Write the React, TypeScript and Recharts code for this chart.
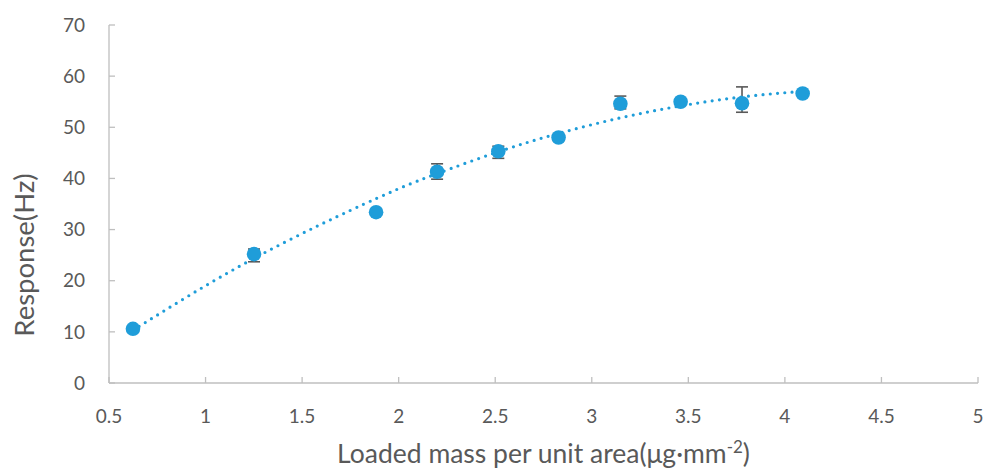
import { ScatterChart, Scatter, XAxis, YAxis, ErrorBar, Label } from "recharts";

// loaded mass per unit area (µg·mm^-2)
const massX = [0.624, 1.251, 1.883, 2.199, 2.516, 2.828, 3.148, 3.46, 3.778, 4.092];
// response (Hz)
const responseY = [10.6, 25.2, 33.4, 41.3, 45.3, 48.0, 54.6, 55.0, 54.7, 56.6];
// error bars [below, above]
const errLow = [0.3, 1.5, 0.4, 1.45, 1.37, 0.6, 1.0, 0.4, 1.76, 0.3];
const errHigh = [0.3, 1.0, 0.4, 1.56, 1.0, 0.6, 1.5, 0.4, 3.2, 0.3];

const xTicks = [0.5, 1, 1.5, 2, 2.5, 3, 3.5, 4, 4.5, 5];
const yTicks = [0, 10, 20, 30, 40, 50, 60, 70];

const blue = "#1f9dd9";
const axisGray = "#bfbfbf";
const textGray = "#595959";
const font = "Lato, 'Noto Sans', sans-serif";

// least squares 2nd order polynomial (like Excel's polynomial trendline)
function polyFit2(xs: number[], ys: number[]) {
    let n = xs.length, sx = 0, sx2 = 0, sx3 = 0, sx4 = 0, sy = 0, sxy = 0, sx2y = 0;
    xs.forEach((x, i) => {
        const y = ys[i];
        sx += x; sx2 += x * x; sx3 += x ** 3; sx4 += x ** 4;
        sy += y; sxy += x * y; sx2y += x * x * y;
    });
    const det3 = (m: number[][]) =>
        m[0][0] * (m[1][1] * m[2][2] - m[1][2] * m[2][1]) -
        m[0][1] * (m[1][0] * m[2][2] - m[1][2] * m[2][0]) +
        m[0][2] * (m[1][0] * m[2][1] - m[1][1] * m[2][0]);
    const A = [[n, sx, sx2], [sx, sx2, sx3], [sx2, sx3, sx4]];
    const B = [sy, sxy, sx2y];
    const D = det3(A);
    const coef = [0, 1, 2].map((k) =>
        det3(A.map((row, r) => row.map((v, c) => (c === k ? B[r] : v)))) / D
    );
    return (x: number) => coef[0] + coef[1] * x + coef[2] * x * x;
}

const points = massX.map((x, i) => ({ x, y: responseY[i], err: [errLow[i], errHigh[i]] }));
const fit = polyFit2(massX, responseY);
const trend = massX.map((x) => ({ x, y: fit(x) }));

const tickStyle = { fill: textGray, fontSize: 19, fontFamily: font };

export default function App() {
    return (
        <div style={{ position: "absolute", left: 0, top: 0 }}>
            <ScatterChart
                width={983}
                height={468}
                margin={{ top: 25, right: 5, bottom: 0, left: 0 }}
            >
                <XAxis
                    type="number"
                    dataKey="x"
                    domain={[0.5, 5]}
                    ticks={xTicks}
                    height={85}
                    axisLine={{ stroke: axisGray, strokeWidth: 1.3 }}
                    tickLine={{ stroke: axisGray, strokeWidth: 1.3 }}
                    tickSize={-6}
                    tickMargin={33}
                    tick={tickStyle}
                    interval={0}
                >
                    <Label
                        content={({ viewBox }: any) => (
                            <text
                                x={viewBox.x + viewBox.width / 2}
                                y={463}
                                textAnchor="middle"
                                fill={textGray}
                                fontSize={26.5}
                                fontFamily={font}
                            >
                                Loaded mass per unit area(μg·mm
                                <tspan dy={-10} fontSize={17}>-2</tspan>
                                <tspan dy={10}>)</tspan>
                            </text>
                        )}
                    />
                </XAxis>
                <YAxis
                    type="number"
                    dataKey="y"
                    domain={[0, 70]}
                    ticks={yTicks}
                    width={109}
                    axisLine={{ stroke: axisGray, strokeWidth: 1.3 }}
                    tickLine={{ stroke: axisGray, strokeWidth: 1.3 }}
                    tickSize={-6}
                    tickMargin={30}
                    tick={tickStyle}
                    interval={0}
                >
                    <Label
                        content={() => (
                            <text
                                x={0}
                                y={0}
                                transform="translate(34,255) rotate(-90)"
                                textAnchor="middle"
                                fill={textGray}
                                fontSize={27.5}
                                fontFamily={font}
                            >
                                Response(Hz)
                            </text>
                        )}
                    />
                </YAxis>
                <Scatter
                    data={trend}
                    line={{ stroke: blue, strokeWidth: 3.2, strokeDasharray: "0 7.3", strokeLinecap: "round" }}
                    lineJointType="natural"
                    shape={() => <g />}
                    isAnimationActive={false}
                />
                <Scatter data={points} fill={blue} isAnimationActive={false} shape={(p: any) => (
                    <circle cx={p.cx} cy={p.cy} r={7.3} fill={blue} />
                )}>
                    <ErrorBar dataKey="err" direction="y" width={6} stroke={textGray} strokeWidth={1.6} />
                </Scatter>
            </ScatterChart>
        </div>
    );
}
